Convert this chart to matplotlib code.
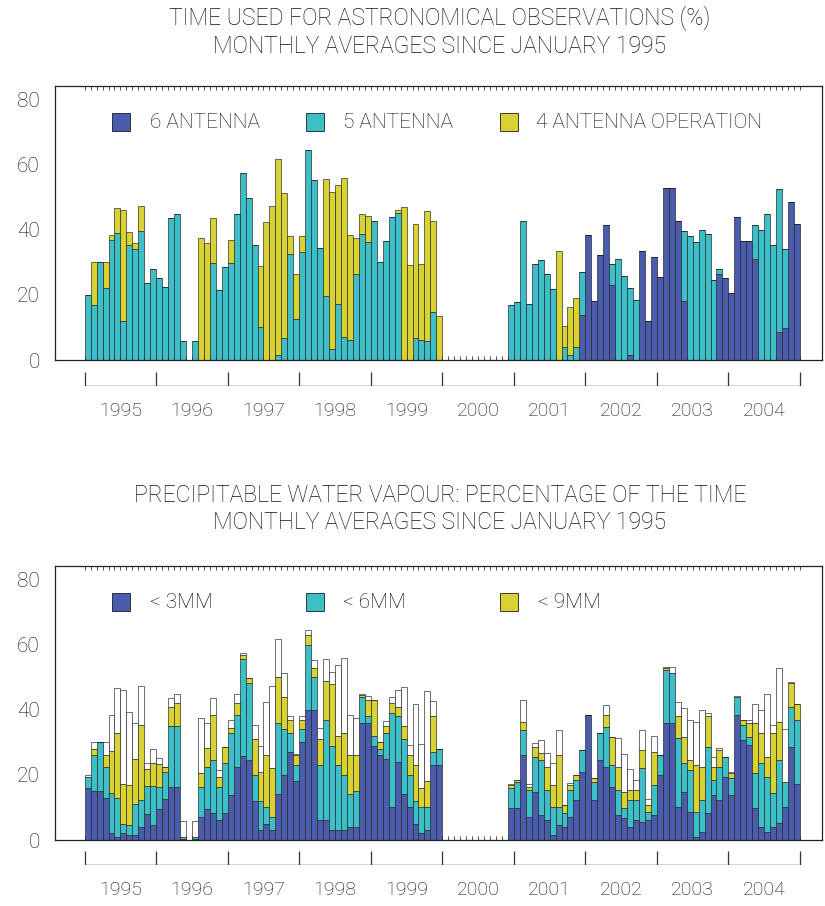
import numpy as np
import matplotlib
matplotlib.use("Agg")
import matplotlib.pyplot as plt
from matplotlib.patches import Rectangle

plt.rcParams["font.family"] = ["Roboto", "DejaVu Sans"]
plt.rcParams["font.weight"] = "light"

# monthly index 0 = Jan 1995 ... 119 = Dec 2004
years = [str(y) for y in range(1995, 2005)]
n_months = 120

# time used for astronomy, split by array configuration (% per month)
six_ant = [0] * 83 + [13.9, 38.6, 18.3, 32.4, 41.5, 23, 0, 0, 1.5, 0, 33.6, 12, 31.7,
                      25.4, 53, 53, 42.7, 18, 0, 0, 0, 0, 0, 26.4, 25.2,
                      20.6, 43.9, 36.7, 36.7, 31, 0, 0, 0, 8.5, 9.8, 48.7, 41.7]
five_ant = [20, 17, 30, 22, 37, 39, 12, 35.5, 34, 39.6, 23.7, 28,
            25.2, 22.6, 43.7, 45, 5.9, 0, 5.9, 0, 0, 29.8, 21.4, 28.6,
            29.8, 45, 57.6, 49.7, 35.5, 10.3, 0, 0, 1.5, 6.7, 32.6, 12.5,
            33.1, 64.5, 55.5, 34.5, 19.8, 3.3, 17.2, 7.1, 6.1, 26.4, 38.8, 36.2,
            42.9, 30.3, 36.7, 43.9, 45.2, 0, 0, 6.7, 6.1, 5.9, 14.9, 0,
            0, 0, 0, 0, 0, 0, 0, 0, 0, 0, 0, 17,
            17.8, 42.7, 17.2, 29.5, 30.7, 26.4, 21.9, 0, 3.9, 1.5, 3.9, 13.1,
            0, 0, 0, 0, 6.5, 31.2, 25.7, 20.6, 18.5, 0, 0, 0,
            0, 0, 0, 0, 21.8, 38, 36.2, 39.9, 38.8, 24.7, 1.7, 0,
            0, 0, 0, 0, 10.5, 40.1, 45, 35.5, 44, 24.5, 0, 0]
four_ant = [0, 13, 0, 8.3, 1.5, 7.8, 34.3, 4, 2, 7.9, 0, 0,
            0, 0, 0, 0, 0, 0, 0, 37.5, 36, 13.9, 0, 0,
            7.2, 0, 0, 0, 0, 18.5, 42.4, 47.3, 60.2, 44.7, 5.7, 13.9,
            5.2, 0, 0, 0, 36, 48.3, 36.5, 48.9, 32.4, 11, 6, 8.2,
            0, 0, 0, 0, 1, 47.2, 29.3, 35.2, 23.4, 39.9, 27.8, 13.6,
            0, 0, 0, 0, 0, 0, 0, 0, 0, 0, 0, 0,
            0, 0, 0, 0, 0, 0, 0, 33.6, 6.6, 14.7, 15.3, 0] + [0] * 36

# precipitable water vapour: cumulative % of time below 3, 6, 9 mm and total
pwv3 = [16, 15, 15, 13, 2, 1, 2, 1.5, 1.5, 4, 8, 4.6,
        9.5, 12.6, 16.4, 16.4, 0.3, 0, 0.3, 7.2, 9.4, 8.2, 6.2, 8.2,
        13.8, 22.6, 25.8, 24.6, 12, 3, 5, 3, 14, 20, 27, 18,
        30, 40, 40, 6, 6, 3, 3, 3, 4, 4, 36, 36,
        29, 26, 25, 10, 24, 14, 10, 5, 2, 3, 23, 23,
        0, 0, 0, 0, 0, 0, 0, 0, 0, 0, 0, 9.7,
        9.7, 26.2, 7.2, 14.9, 7.7, 6.2, 1.5, 4.6, 4.1, 7.2, 12.3, 21,
        38.5, 12.3, 24.6, 22.6, 16.4, 7.7, 6.7, 4, 6.2, 5.6, 6.2, 7.7,
        20, 35.9, 35.9, 10.3, 14.9, 8.7, 1, 2.6, 8.2, 13.8, 12.3, 19.5,
        13.8, 38.5, 30.8, 29.2, 9.7, 4.1, 2.6, 4.1, 5.1, 10, 28.7, 17.2]
pwv6 = [19.5, 26, 30, 22.5, 14.5, 13, 5, 4.6, 11, 12.3, 16.7, 16.7,
        16.2, 21, 35, 35, 0.8, 0, 0.8, 16.4, 22.6, 24.6, 16.4, 23.6,
        32.8, 38.5, 55.6, 48.2, 20, 12, 10, 7, 36, 34, 33, 23,
        34, 60, 50, 23, 37, 29, 23, 20, 14, 15, 44, 38,
        32, 28, 33, 39, 38, 31, 20, 12, 10, 10, 27, 28,
        0, 0, 0, 0, 0, 0, 0, 0, 0, 0, 0, 15.9,
        17.9, 33.8, 15.4, 25.6, 24.6, 15.4, 10.3, 10.3, 8.2, 15.4, 18.5, 27.7,
        38.5, 17.9, 32.8, 34.9, 23, 15.4, 9.7, 12.3, 12.3, 22.1, 8.7, 16.9,
        26, 52.3, 51.3, 31.3, 23.6, 21.5, 8.7, 12.3, 28.7, 18.5, 22.6, 25.6,
        19, 44, 35.4, 31.8, 20.5, 23.6, 19.5, 14.4, 24.6, 17.9, 41, 37]
pwv9 = [19.5, 28, 30, 26, 27.5, 33, 17.2, 17, 25, 35.4, 21.7, 23.6,
        23.4, 22.6, 41, 42, 0.8, 0, 0.8, 20.5, 28.2, 38.5, 19.5, 28.6,
        34.4, 42, 57, 49.7, 31, 21, 26, 22, 50, 44, 37, 26,
        37, 63, 53, 31, 49, 48, 32, 33, 26, 26, 44.5, 43,
        43, 30, 35, 42, 41, 35, 26, 23, 16, 18, 38, 28,
        0, 0, 0, 0, 0, 0, 0, 0, 0, 0, 0, 16.9,
        18.5, 36.4, 16.4, 28.7, 26.7, 22.6, 16.9, 26.2, 10.8, 16.9, 20, 27.7,
        38.6, 19, 32.8, 38.5, 31.8, 22.6, 14.9, 15.4, 15.4, 27.7, 10.8, 27.2,
        26, 52.8, 51.3, 38, 31.8, 24.6, 23, 22.6, 38, 22.6, 27.7, 25.6,
        20.5, 44, 37, 35.9, 35.9, 32.8, 25.6, 32.8, 36.4, 17.9, 48.2, 41.7]
pwv_total = [20, 30, 30.3, 30.3, 38.5, 46.8, 46.3, 39.4, 36, 47.5, 23.7, 28,
             25.2, 22.6, 43.7, 45, 5.9, 0, 5.9, 37.5, 36, 43.7, 21.4, 28.6,
             37, 45, 57.6, 49.7, 35.5, 28.8, 42.4, 47.3, 61.7, 51.4, 38.3, 26.4,
             38.3, 64.5, 55.5, 34.5, 55.8, 51.6, 53.7, 56, 38.5, 37.4, 44.8, 44.4,
             43, 30.3, 36.7, 43.9, 46.2, 47.2, 29.3, 41.9, 29.5, 45.8, 42.7, 28,
             0, 0, 0, 0, 0, 0, 0, 0, 0, 0, 0, 17.2,
             18.5, 43, 17.2, 29.9, 30.8, 26.9, 23.6, 33.8, 10.8, 17.4, 20, 27.7,
             38.6, 19, 32.8, 41.5, 31.8, 31.3, 26.5, 21.7, 18.5, 33.8, 12.5, 32,
             26, 53.3, 53.3, 42.5, 40.5, 36.9, 36.2, 40, 39, 25.6, 28.2, 25.6,
             21, 44.3, 37, 37, 41.8, 40, 45, 35.4, 52.8, 34.3, 48.7, 41.8]

C_DARK = "#4a5cab"
C_CYAN = "#3dbfc9"
C_YEL = "#d8d232"
C_TXT = "#111111"
EDGE = "#1e1e1e"

W, H = 825, 906
fig = plt.figure(figsize=(W / 100, H / 100), dpi=100)

months = np.arange(n_months)


def frame(ax):
    ax.set_xlim(-4.98, 123.7)
    ax.set_ylim(0, 84.3)
    for s in ax.spines.values():
        s.set_linewidth(0.9)
        s.set_color("#222222")
    ax.set_yticks([0, 20, 40, 60, 80])
    ax.tick_params(axis="y", length=0, pad=11, labelsize=15, labelcolor=C_TXT)
    ax.set_xticks([])
    ax.set_xticks(np.arange(0, 121), minor=True)
    ax.tick_params(axis="x", which="minor", direction="in", length=3,
                   width=0.6, top=True, bottom=True, color="#333333")


def year_axis(bottom_px):
    ya = fig.add_axes([55 / W, (H - bottom_px) / H, 767 / W, 14 / H])
    ya.set_xlim(-4.98, 123.7)
    ya.set_ylim(0, 1)
    ya.axis("off")
    ya.plot([0, 120], [0, 0], color="#333333", lw=1.0, solid_capstyle="butt")
    ya.vlines(np.arange(0, 121, 12), 0, 1, color="#333333", lw=0.9)
    for k, yr in enumerate(years):
        ya.text(12 * k + 6, -1.8, yr, ha="center", va="center",
                fontsize=14, color=C_TXT)


def legend_item(ax, x_sq, x_txt, color, label):
    ax.add_patch(Rectangle((x_sq, 0.835), 0.0235, 0.066, transform=ax.transAxes,
                           facecolor=color, edgecolor=EDGE, lw=0.6, clip_on=False))
    ax.text(x_txt, 0.868, label, transform=ax.transAxes, ha="left", va="center",
            fontsize=15, color=C_TXT)


# ---- top: time used for astronomy
ax1 = fig.add_axes([55 / W, (H - 360) / H, 767 / W, 274 / H])
frame(ax1)
six = np.array(six_ant)
five = np.array(five_ant)
four = np.array(four_ant)
kw = dict(width=1.0, align="edge", edgecolor=EDGE, linewidth=0.45)
ax1.bar(months, six, color=C_DARK, **kw)
ax1.bar(months, five, bottom=six, color=C_CYAN, **kw)
ax1.bar(months, four, bottom=six + five, color=C_YEL, **kw)
legend_item(ax1, 0.0743, 0.1239, C_DARK, "6 ANTENNA")
legend_item(ax1, 0.327, 0.3755, C_CYAN, "5 ANTENNA")
legend_item(ax1, 0.580, 0.627, C_YEL, "4 ANTENNA OPERATION")
year_axis(386)

# ---- bottom: precipitable water vapour
ax2 = fig.add_axes([55 / W, (H - 840) / H, 767 / W, 274 / H])
frame(ax2)
p3 = np.array(pwv3)
p6 = np.array(pwv6)
p9 = np.array(pwv9)
pt = np.array(pwv_total)
ax2.bar(months, p3, color=C_DARK, **kw)
ax2.bar(months, p6 - p3, bottom=p3, color=C_CYAN, **kw)
ax2.bar(months, p9 - p6, bottom=p6, color=C_YEL, **kw)
ax2.bar(months, pt - p9, bottom=p9, color="white", **kw)
legend_item(ax2, 0.0743, 0.1239, C_DARK, "< 3MM")
legend_item(ax2, 0.327, 0.3755, C_CYAN, "< 6MM")
legend_item(ax2, 0.580, 0.630, C_YEL, "< 9MM")
year_axis(865)

# titles
tx = 440 / W
fig.text(tx, (H - 18) / H, "TIME USED FOR ASTRONOMICAL OBSERVATIONS (%)",
         ha="center", va="center", fontsize=16.5, color=C_TXT)
fig.text(tx, (H - 46) / H, "MONTHLY AVERAGES SINCE JANUARY 1995",
         ha="center", va="center", fontsize=16.5, color=C_TXT)
fig.text(tx, (H - 495) / H, "PRECIPITABLE WATER VAPOUR: PERCENTAGE OF THE TIME",
         ha="center", va="center", fontsize=16.5, color=C_TXT)
fig.text(tx, (H - 522) / H, "MONTHLY AVERAGES SINCE JANUARY 1995",
         ha="center", va="center", fontsize=16.5, color=C_TXT)

fig.savefig("out.png", dpi=100)
